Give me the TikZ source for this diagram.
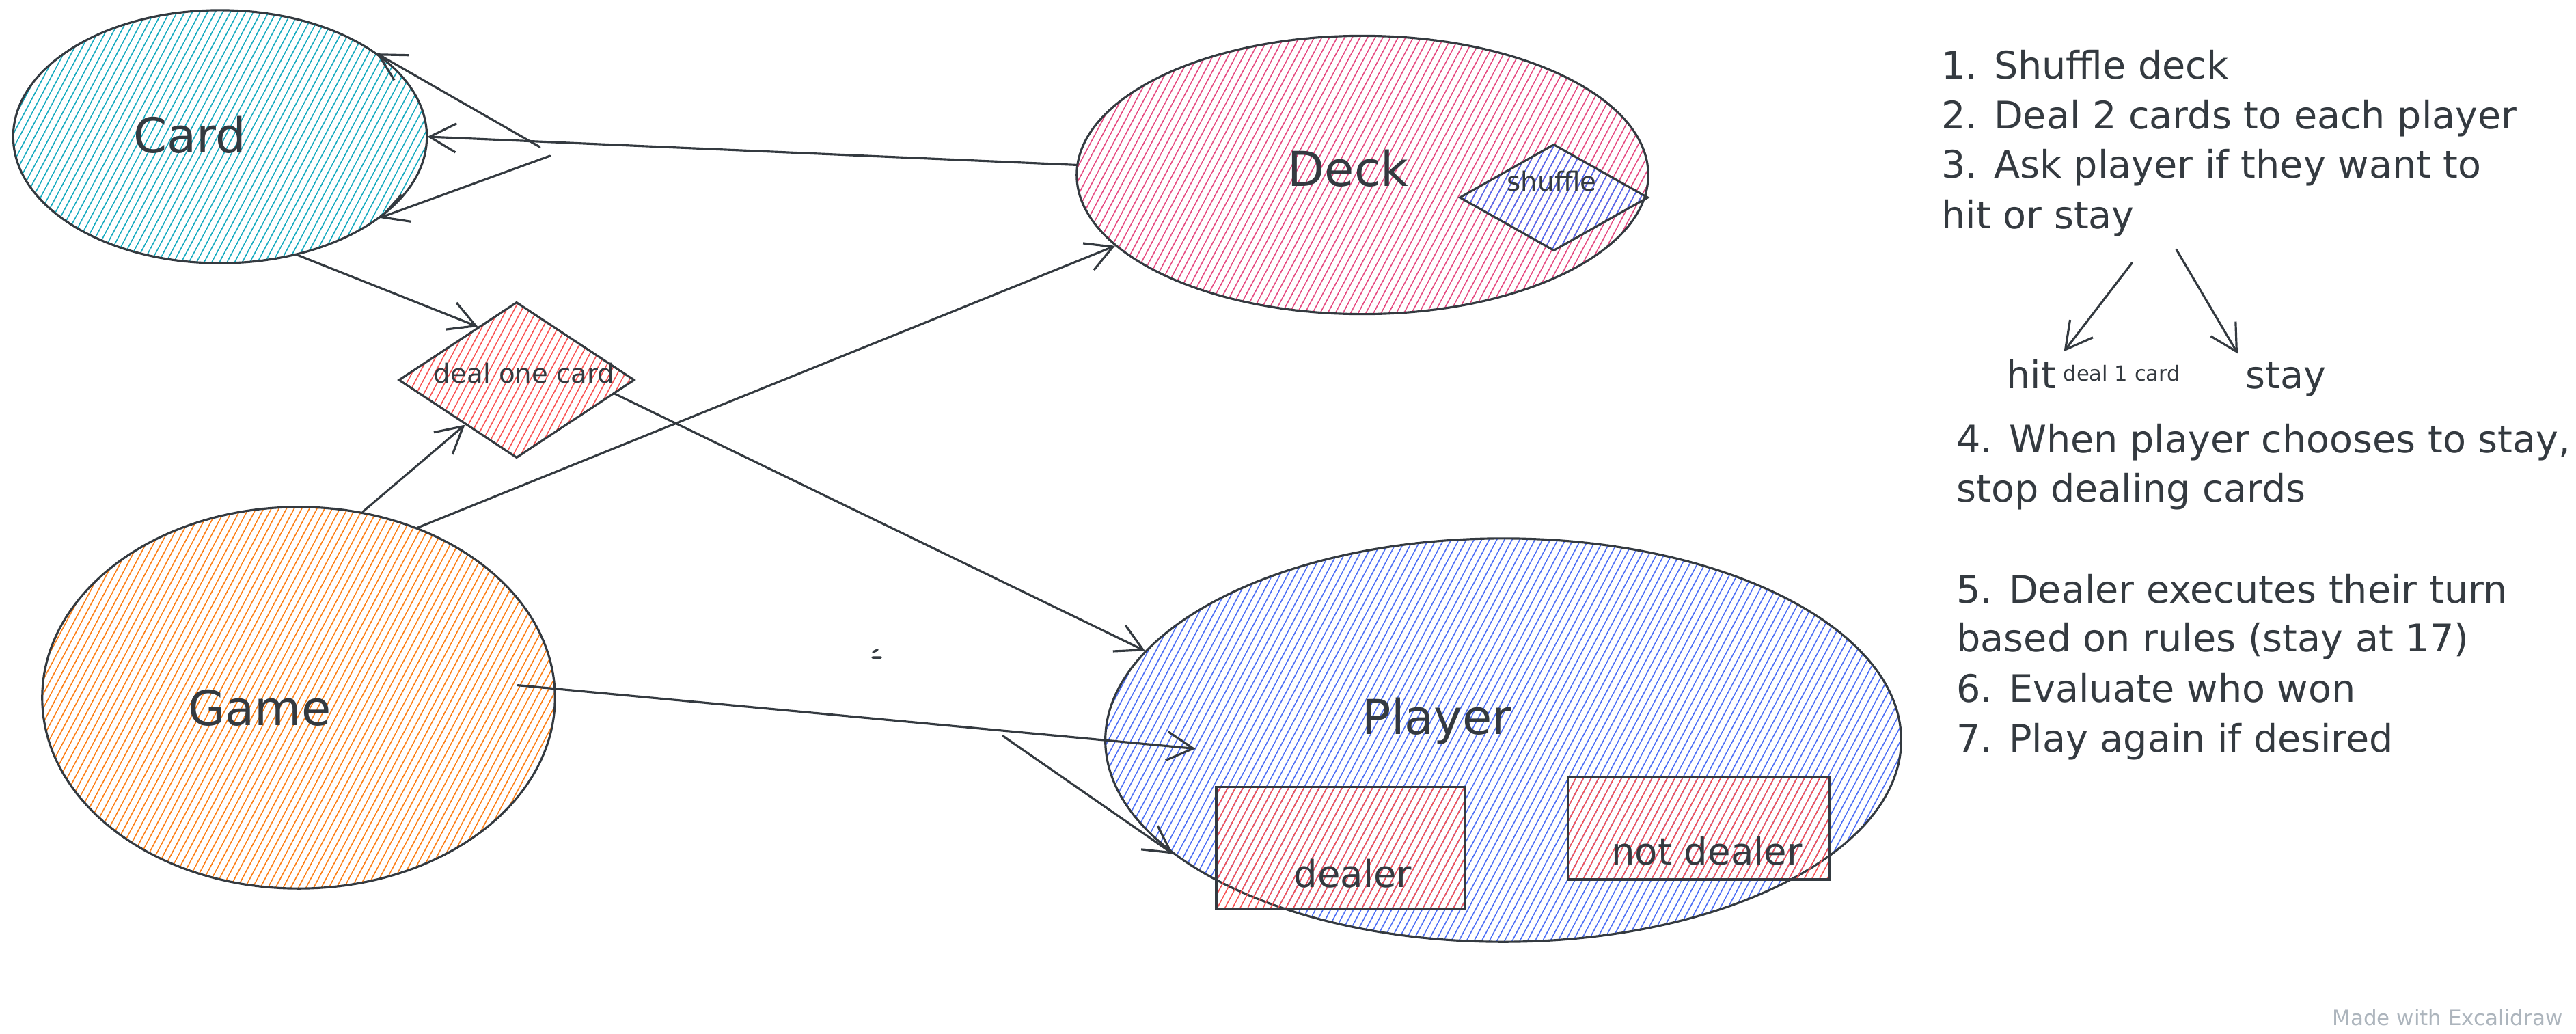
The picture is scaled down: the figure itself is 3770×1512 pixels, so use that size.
\documentclass[tikz,border=0pt]{standalone}
\usepackage{fontspec}
\setmainfont{DejaVu Sans}
\usetikzlibrary{arrows.meta,shapes.geometric,patterns.meta}

\definecolor{ink}{HTML}{343A40}
\definecolor{cardcyan}{HTML}{15AABF}
\definecolor{deckpink}{HTML}{E64980}
\definecolor{gameorange}{HTML}{FD7E14}
\definecolor{playerblue}{HTML}{4C6EF5}
\definecolor{dealred}{HTML}{FA5252}
\definecolor{markgray}{HTML}{ADB5BD}

\begin{document}
\begin{tikzpicture}[
    x=0.01cm, y=-0.01cm, % one unit is one pixel of the sketch
    ->, % Makes the arrows point to the target node
    >={Straight Barb[length=11pt,width=12pt]}, % Arrow tip style
    line width=0.9pt, line cap=round, color=ink,
    hatch/.style={pattern={Lines[angle=62,distance=2.8pt,line width=0.45pt]}, pattern color=#1},
    blob/.style={ellipse, draw, inner sep=0pt},
    rhomb/.style={diamond, draw, inner sep=0pt},
    box/.style={rectangle, draw, inner sep=0pt},
    labeltext/.style={font=\fontsize{20}{24}\selectfont},
    smalltext/.style={font=\fontsize{11}{12}\selectfont},
    midtext/.style={font=\fontsize{15.5}{18}\selectfont},
    steptext/.style={anchor=base west, inner sep=0pt, font=\fontsize{15.8}{19}\selectfont},
    notetext/.style={anchor=base west, inner sep=0pt, font=\fontsize{8.7}{10}\selectfont},
    marktext/.style={anchor=base west, inner sep=0pt, text=markgray, font=\fontsize{8.8}{10}\selectfont}
]
\useasboundingbox (0,0) rectangle (3770,1512);

% Define the nodes
\node[blob, hatch=cardcyan, minimum width=6.05cm, minimum height=3.7cm] (Card) at (322,200) {};
\node[blob, hatch=deckpink, minimum width=8.36cm, minimum height=4.07cm] (Deck) at (1994,256) {};
\node[blob, hatch=gameorange, minimum width=7.5cm, minimum height=5.58cm] (Game) at (437,1021) {};
\node[blob, hatch=playerblue, minimum width=11.64cm, minimum height=5.9cm] (Player) at (2200,1083) {};
\node[rhomb, hatch=dealred, minimum width=3.45cm, minimum height=2.28cm] (Deal) at (756,556) {};
\node[rhomb, hatch=playerblue, minimum width=2.76cm, minimum height=1.56cm] (Shuffle) at (2274,289) {};
\node[box, hatch=dealred, minimum width=3.64cm, minimum height=1.79cm] (Dealer) at (1962,1241) {};
\node[box, hatch=dealred, minimum width=3.83cm, minimum height=1.5cm] (NotDealer) at (2486,1212) {};

\node[labeltext] (CardLabel) at (278,197) {Card};
\node[labeltext] (DeckLabel) at (1973,246) {Deck};
\node[labeltext] (GameLabel) at (380,1036) {Game};
\node[labeltext] (PlayerLabel) at (2103,1055) {Player};
\node[smalltext] (DealLabel) at (767,546) {deal one card};
\node[smalltext] (ShuffleLabel) at (2271,265) {shuffle};
\node[midtext] (DealerLabel) at (1980,1278) {dealer};
\node[midtext] (NotDealerLabel) at (2498,1245) {not dealer};

% The steps on the right
\node[steptext] (S1) at (2840,115) {1. Shuffle deck};
\node[steptext] (S2) at (2840,188) {2. Deal 2 cards to each player};
\node[steptext] (S3) at (2840,260) {3. Ask player if they want to};
\node[steptext] (S3b) at (2840,334) {hit or stay};
\node[steptext, inner sep=0.1cm] (Hit) at (2925,568) {hit};
\node[notetext] (HitNote) at (3018,557) {deal 1 card};
\node[steptext, inner sep=0.1cm] (Stay) at (3275,568) {stay};
\node[steptext] (S4) at (2862,662) {4. When player chooses to stay,};
\node[steptext] (S4b) at (2862,734) {stop dealing cards};
\node[steptext] (S5) at (2862,882) {5. Dealer executes their turn};
\node[steptext] (S5b) at (2862,953) {based on rules (stay at 17)};
\node[steptext] (S6) at (2862,1027) {6. Evaluate who won};
\node[steptext] (S7) at (2862,1100) {7. Play again if desired};
\node[marktext] (Watermark) at (3412,1500) {Made with Excalidraw};

% Loose arrow ends
\coordinate (Fan1) at (790,215);
\coordinate (Fan2) at (805,228);
\coordinate (Stray) at (1468,1077);
\coordinate (HitFrom) at (3120,385);
\coordinate (StayFrom) at (3185,365);

% Define the directed edges
\draw (Deck.178) -- (Card.0);
\draw (Fan1) -- (Card.28);
\draw (Fan2) -- (Card.-27);
\draw (Card.-57) -- (Deal.126);
\draw (Game.71) -- (Deal.221);
\draw (Game.55) -- (Deck.196);
\draw (Deal.-8) -- (Player.166);
\draw[shorten <=-0.56cm, shorten >=-1.34cm] (Game.2) -- (Player.west);
\draw (Stray) -- (Player.199);
\draw (HitFrom) -- (Hit.north east);
\draw (StayFrom) -- (Stay.north west);

% stray pen mark
\draw[-, line width=1pt] (1278,954) -- (1284,951) (1277,962) -- (1289,962);

\end{tikzpicture}
\end{document}
